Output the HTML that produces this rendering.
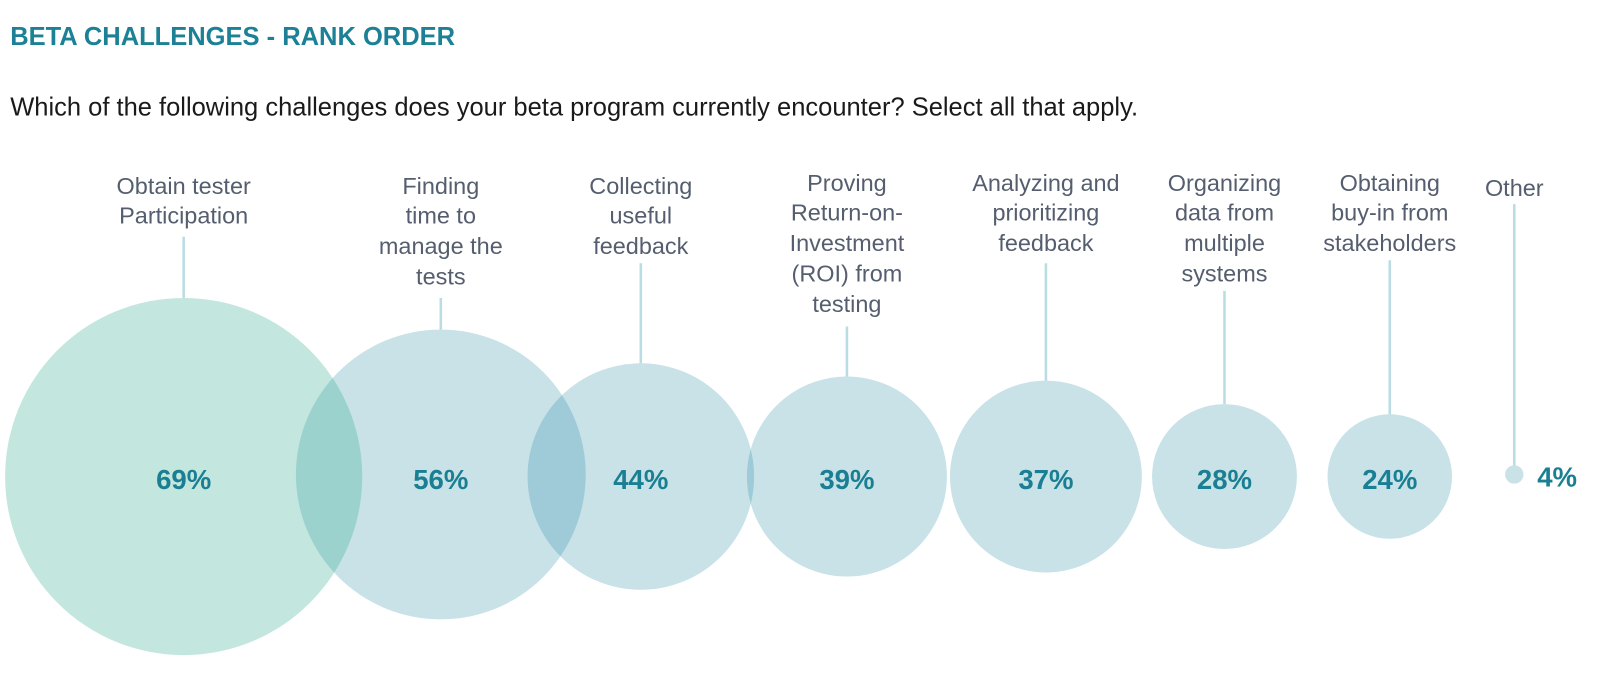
<!DOCTYPE html><html><head><style>
body{margin:0;background:#fff;width:1600px;height:680px;overflow:hidden}
svg text{font-family:"Liberation Sans",sans-serif}
</style></head><body>
<svg width="1600" height="680" viewBox="0 0 1600 680">
<defs>
<clipPath id="c1"><circle cx="180" cy="467" r="175"/></clipPath>
<clipPath id="c3"><circle cx="628" cy="467" r="111"/></clipPath>
<clipPath id="c4"><circle cx="830" cy="467" r="98"/></clipPath>
</defs>
<g transform="scale(1.0204)">
<text x="10" y="44" font-size="25" fill="#1c8196" font-weight="600">BETA CHALLENGES - RANK ORDER</text>
<text x="10" y="113" font-size="25" fill="#1a1a1a">Which of the following challenges does your beta program currently encounter? Select all that apply.</text>
<g stroke="#b9dde3" stroke-width="2.5">
<line x1="180" y1="232" x2="180" y2="292"/>
<line x1="432" y1="292" x2="432" y2="325"/>
<line x1="628" y1="258" x2="628" y2="358"/>
<line x1="830" y1="320" x2="830" y2="370"/>
<line x1="1025" y1="258" x2="1025" y2="374"/>
<line x1="1200" y1="285" x2="1200" y2="396"/>
<line x1="1362" y1="255" x2="1362" y2="407"/>
<line x1="1484" y1="200" x2="1484" y2="458"/>
</g>
<circle cx="180" cy="467" r="175" fill="#c3e6de"/>
<circle cx="432" cy="465" r="142" fill="#c8e2e8"/>
<circle cx="432" cy="465" r="142" fill="#9cd2ce" clip-path="url(#c1)"/>
<circle cx="628" cy="467" r="111" fill="#c8e2e8"/>
<circle cx="432" cy="465" r="142" fill="#9ecbd7" clip-path="url(#c3)"/>
<circle cx="830" cy="467" r="98" fill="#c8e2e8"/>
<circle cx="628" cy="467" r="111" fill="#9ecbd7" clip-path="url(#c4)"/>
<circle cx="1025" cy="467" r="94" fill="#c8e2e8"/>
<circle cx="1200" cy="467" r="71" fill="#c8e2e8"/>
<circle cx="1362" cy="467" r="61" fill="#c8e2e8"/>
<circle cx="1484" cy="465" r="9" fill="#c8e2e8"/>
<g font-size="27" fill="#1a7f92" text-anchor="middle" font-weight="bold">
<text x="180" y="479">69%</text><text x="432" y="479">56%</text><text x="628" y="479">44%</text>
<text x="830" y="479">39%</text><text x="1025" y="479">37%</text><text x="1200" y="479">28%</text>
<text x="1362" y="479">24%</text><text x="1526" y="477">4%</text>
</g>
<g font-size="23" fill="#555e6e" text-anchor="middle">
<text x="180" y="190">Obtain tester</text><text x="180" y="219">Participation</text>
<text x="432" y="190">Finding</text><text x="432" y="219">time to</text><text x="432" y="249">manage the</text><text x="432" y="279">tests</text>
<text x="628" y="190">Collecting</text><text x="628" y="219">useful</text><text x="628" y="249">feedback</text>
<text x="830" y="187">Proving</text><text x="830" y="216">Return-on-</text><text x="830" y="246">Investment</text><text x="830" y="276">(ROI) from</text><text x="830" y="306">testing</text>
<text x="1025" y="187">Analyzing and</text><text x="1025" y="216">prioritizing</text><text x="1025" y="246">feedback</text>
<text x="1200" y="187">Organizing</text><text x="1200" y="216">data from</text><text x="1200" y="246">multiple</text><text x="1200" y="276">systems</text>
<text x="1362" y="187">Obtaining</text><text x="1362" y="216">buy-in from</text><text x="1362" y="246">stakeholders</text>
<text x="1484" y="192">Other</text>
</g>
</g>
</svg>
</body></html>
